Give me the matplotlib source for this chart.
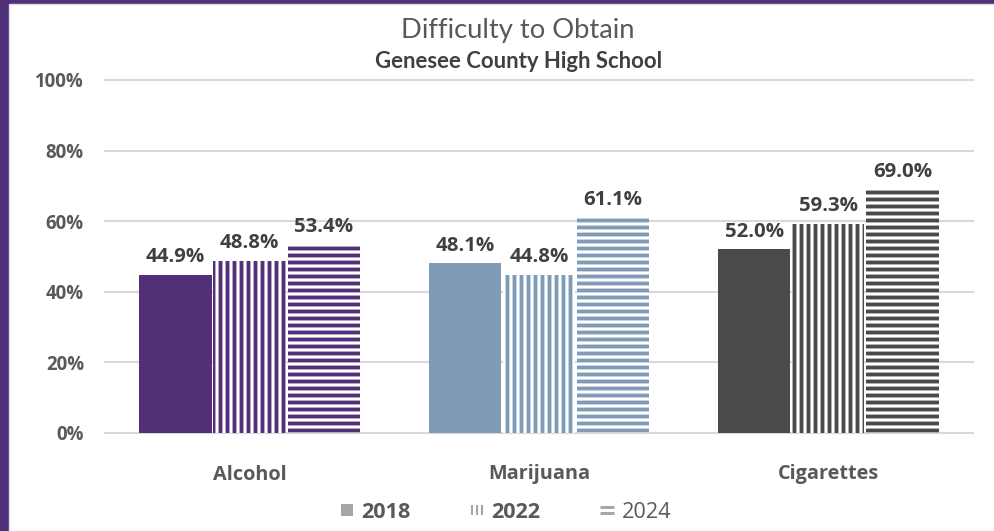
import matplotlib
matplotlib.use("Agg")
import matplotlib.pyplot as plt
from matplotlib.patches import Rectangle
from matplotlib.lines import Line2D
from matplotlib.path import Path
import numpy as np

categories = ["Alcohol", "Marijuana", "Cigarettes"]
years = ["2018", "2022", "2024"]
v2018 = [44.9, 48.1, 52.0]
v2022 = [48.8, 44.8, 59.3]
v2024 = [53.4, 61.1, 69.0]
catColors = ["#522f76", "#7f9bb6", "#4a4a4a"]
yTicks = [0, 20, 40, 60, 80, 100]

plt.rcParams["font.family"] = ["Open Sans", "DejaVu Sans"]
plt.rcParams["hatch.linewidth"] = 3.3

W, H, DPI = 994, 531, 84
fig = plt.figure(figsize=(W / DPI, H / DPI), dpi=DPI, facecolor="#51307a")
# white card over the purple slide background
fig.patches.append(Rectangle((9 / W, -0.01), 1.0, (531 - 4) / H + 0.01, transform=fig.transFigure,
                             facecolor="white", edgecolor="#dcdce4", linewidth=1.2, zorder=-5))

ax = fig.add_axes([105 / W, 98 / H, 868 / W, 353 / H])
ax.set_facecolor("none")

x = np.arange(len(categories))
bw = 0.25
step = 0.256
series = [v2018, v2022, v2024]
hatches = [None, "||", "--"]
for i, vals in enumerate(series):
    pos = x + (i - 1) * step
    vals = np.array(vals) / 100
    if hatches[i] is None:
        bars = ax.bar(pos, vals, bw, color=catColors, linewidth=0, zorder=3)
    else:
        bars = ax.bar(pos, vals, bw, color="white", edgecolor=catColors, hatch=hatches[i],
                      linewidth=0, zorder=3)
    for b, v in zip(bars, vals):
        ax.annotate(f"{v*100:.1f}%", (b.get_x() + b.get_width() / 2, v), xytext=(0, 6.5),
                    textcoords="offset points", ha="center", va="bottom",
                    fontsize=17.5, fontweight="bold", color="#404040")

ax.set_xlim(-0.5, 2.5)
ax.set_ylim(0, 1)
ax.set_yticks([t / 100 for t in yTicks])
ax.set_yticklabels([f"{t}%" for t in yTicks], fontweight="bold")
ax.tick_params(axis="y", length=0, pad=18, labelsize=16, labelcolor="#595959")
ax.set_xticks(x)
ax.set_xticklabels(categories, fontweight="bold")
ax.tick_params(axis="x", length=0, pad=27, labelsize=17, labelcolor="#595959")
for s in ax.spines.values():
    s.set_visible(False)
ax.yaxis.grid(True, color="#d9d9d9", linewidth=1.8, zorder=0)
ax.set_axisbelow(True)
for gl in ax.get_ygridlines():
    gl.set_clip_on(False)

fig.text(517.5 / W, 1 - 38 / H, "Difficulty to Obtain", family="Lato", fontsize=23.5,
         color="#595959", ha="center", va="baseline")
fig.text(519 / W, 1 - 68 / H, "Genesee County High School", family="Lato", fontsize=19,
         fontweight="bold", color="#404040", ha="center", va="baseline")

# legend markers: solid square, vertical lines, horizontal lines
vlines = Path([(-1, -1), (-1, 1), (0, -1), (0, 1), (1, -1), (1, 1)],
              [Path.MOVETO, Path.LINETO] * 3)
hlines = Path([(-1, -0.45), (1, -0.45), (-1, 0.45), (1, 0.45)], [Path.MOVETO, Path.LINETO] * 2)
handles = [
    Line2D([], [], marker="s", linestyle="none", markersize=11, markerfacecolor="#a6a6a6",
           markeredgewidth=0),
    Line2D([], [], marker=vlines, linestyle="none", markersize=9, markeredgecolor="#a6a6a6",
           markeredgewidth=1.8),
    Line2D([], [], marker=hlines, linestyle="none", markersize=12, markeredgecolor="#a6a6a6",
           markeredgewidth=2.6),
]
leg = fig.legend(handles, years, loc="center", bbox_to_anchor=(505 / W, 1 - 512 / H), ncol=3,
                 frameon=False, fontsize=18.5, handlelength=0.7, handletextpad=0.31,
                 columnspacing=2.75, labelcolor="#595959")
for t, wgt in zip(leg.get_texts(), ["bold", "bold", "normal"]):
    t.set_fontweight(wgt)

fig.savefig("out.png", dpi=DPI, facecolor=fig.get_facecolor())
